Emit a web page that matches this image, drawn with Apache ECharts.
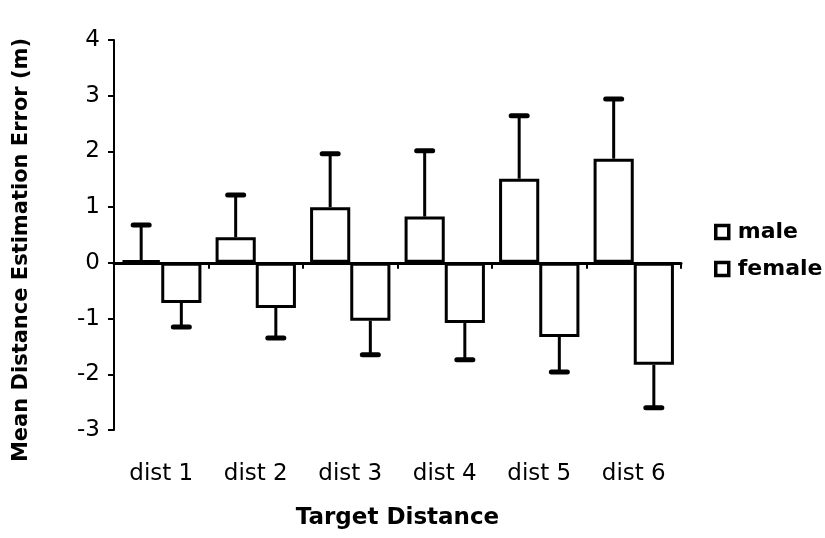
<!DOCTYPE html>
<html>
<head>
<meta charset="utf-8">
<script src="https://cdn.jsdelivr.net/npm/echarts@6/dist/echarts.min.js"></script>
<style>
  html, body { margin: 0; padding: 0; background: #fff; }
  #chart { width: 825px; height: 538px; }
</style>
</head>
<body>
<div id="chart"></div>
<script>
// Target distance categories
const categories = ['dist 1', 'dist 2', 'dist 3', 'dist 4', 'dist 5', 'dist 6'];
// Mean estimation error (m) per group
const maleMean = [0.05, 0.46, 1.00, 0.83, 1.51, 1.87];
const femaleMean = [-0.72, -0.81, -1.04, -1.08, -1.33, -1.83];
// Error bar lengths (m), drawn away from zero
const maleError = [0.63, 0.76, 0.96, 1.18, 1.13, 1.07];
const femaleError = [0.43, 0.54, 0.61, 0.66, 0.63, 0.77];
// Y axis ticks
const yTicks = [-3, -2, -1, 0, 1, 2, 3, 4];

const FONT = '"DejaVu Sans", "Liberation Sans", Arial, sans-serif';
const CAT_GAP = 0.15;

const chart = echarts.init(document.getElementById('chart'), null, { renderer: 'canvas' });

function errorSeries(name, means, errs, side, dir) {
  return {
    name: name,
    type: 'custom',
    xAxisIndex: 0,
    yAxisIndex: 0,
    z: 5,
    data: means.map((m, i) => [i, m, m + dir * errs[i]]),
    renderItem: function (params, api) {
      const i = api.value(0);
      const base = api.coord([i, api.value(1)]);
      const end = api.coord([i, api.value(2)]);
      const catW = api.size([1, 0])[0];
      const barW = catW * (1 - CAT_GAP) / 2;
      const x = base[0] + side * barW / 2;
      const cap = 8;
      return {
        type: 'group',
        children: [
          { type: 'line', shape: { x1: x, y1: base[1], x2: x, y2: end[1] },
            style: { stroke: '#000', lineWidth: 3 } },
          { type: 'line', shape: { x1: x - cap, y1: end[1], x2: x + cap, y2: end[1] },
            style: { stroke: '#000', lineWidth: 5, lineCap: 'round' } }
        ]
      };
    }
  };
}

const option = {
  backgroundColor: '#fff',
  animation: false,
  textStyle: { fontFamily: FONT, color: '#000' },
  grid: { left: 114, right: 144, top: 40, bottom: 108, containLabel: false },
  legend: {
    data: ['male', 'female'],
    orient: 'vertical',
    left: 714,
    top: 221,
    padding: 0,
    itemWidth: 13,
    itemHeight: 13,
    itemGap: 15,
    icon: 'rect',
    textStyle: { fontFamily: FONT, fontSize: 22, fontWeight: 'bold', color: '#000', padding: [0, 0, 0, 4] },
    itemStyle: { color: '#fff', borderColor: '#000', borderWidth: 3.5 }
  },
  xAxis: [
    {
      type: 'category',
      data: categories,
      position: 'bottom',
      axisLine: { show: false, onZero: false },
      axisTick: { show: false },
      axisLabel: { color: '#000', fontFamily: FONT, fontSize: 23, margin: 33 },
      name: 'Target Distance',
      nameLocation: 'middle',
      nameGap: 77,
      nameTextStyle: { fontFamily: FONT, fontSize: 23, fontWeight: 'bold', color: '#000' }
    },
    {
      type: 'category',
      data: categories,
      position: 'top',
      axisLine: { show: true, onZero: true, lineStyle: { color: '#000', width: 3 } },
      axisTick: { show: true, inside: true, length: 6, lineStyle: { color: '#000', width: 2 } },
      axisLabel: { show: false }
    }
  ],
  yAxis: {
    type: 'value',
    min: yTicks[0],
    max: yTicks[yTicks.length - 1],
    interval: 1,
    splitLine: { show: false },
    axisLine: { show: true, lineStyle: { color: '#000', width: 2 } },
    axisTick: { show: true, length: 6, lineStyle: { color: '#000', width: 2 } },
    axisLabel: { color: '#000', fontFamily: FONT, fontSize: 23, margin: 14 },
    name: 'Mean Distance Estimation Error (m)',
    nameLocation: 'middle',
    nameGap: 82,
    nameRotate: 90,
    nameTextStyle: { fontFamily: FONT, fontSize: 21, fontWeight: 'bold', color: '#000', padding: [0, 30, 0, 0] }
  },
  series: [
    {
      name: 'male',
      type: 'bar',
      xAxisIndex: 0,
      data: maleMean,
      barGap: '0%',
      barCategoryGap: (CAT_GAP * 100) + '%',
      itemStyle: { color: '#fff', borderColor: '#000', borderWidth: 3 }
    },
    {
      name: 'female',
      type: 'bar',
      xAxisIndex: 0,
      data: femaleMean,
      barGap: '0%',
      barCategoryGap: (CAT_GAP * 100) + '%',
      itemStyle: { color: '#fff', borderColor: '#000', borderWidth: 3 }
    },
    errorSeries('male error', maleMean, maleError, -1, 1),
    errorSeries('female error', femaleMean, femaleError, 1, -1)
  ]
};

chart.setOption(option);
</script>
</body>
</html>
